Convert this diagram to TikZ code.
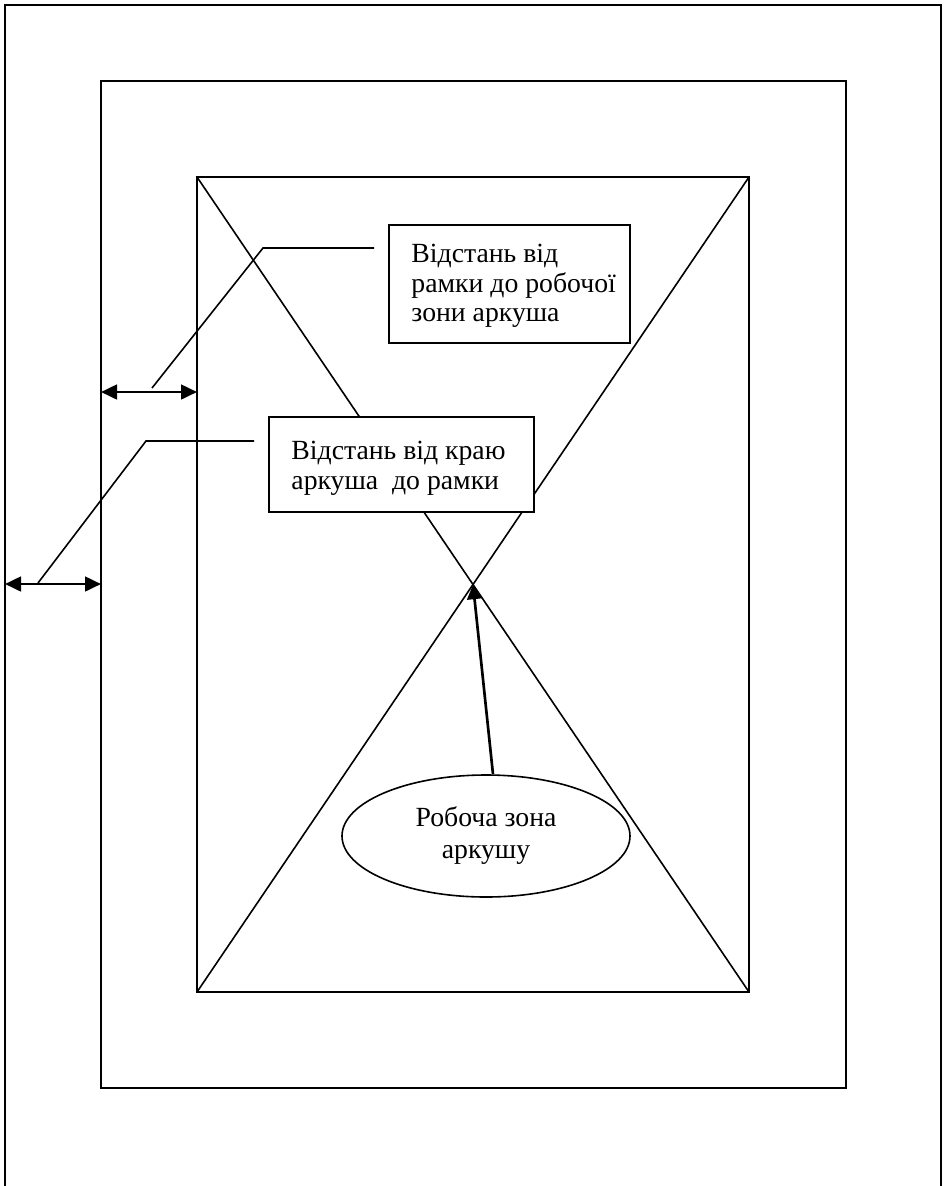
\documentclass[tikz,border=0pt]{standalone}
\usepackage{fontspec}
\setmainfont{Liberation Serif}
\usetikzlibrary{arrows.meta,shapes.geometric}
\begin{document}
\begin{tikzpicture}[x=0.75pt,y=-0.75pt,
  frame/.style={line width=1.2pt},
  leader/.style={line width=1.2pt},
  dimarrow/.style={line width=2pt,{Triangle[length=12pt,width=11pt]}-{Triangle[length=12pt,width=11pt]}},
  pointer/.style={line width=2pt,-{Triangle[length=11pt,width=11pt]}},
  box/.style={draw,fill=white,line width=1.2pt,inner sep=0pt},
  txt/.style={font=\fontsize{20.8}{22}\selectfont,align=left,inner sep=0pt,anchor=north west},
  ctxt/.style={font=\fontsize{20.8}{24}\selectfont,align=center}]
\useasboundingbox (0,0) rectangle (946,1186);
% sheet edge (open at the bottom)
\draw[frame] (5,1186) -- (5,5) -- (941,5) -- (941,1186);
% frame
\draw[frame] (101,81) rectangle (846,1088);
% working zone with diagonals
\coordinate (wtl) at (197,177);
\coordinate (wtr) at (749,177);
\coordinate (wbl) at (197,992);
\coordinate (wbr) at (749,992);
\draw[frame] (wtl) rectangle (wbr);
\draw[frame] (wtl) -- (wbr);
\draw[frame] (wtr) -- (wbl);
\coordinate (wc) at (473,584.5);
% box 1
\node[box,minimum width=180.75pt,minimum height=88.5pt] (b1) at (509.5,284) {};
\node[txt] (t1) at ([shift={(23,20)}]b1.north west) {Відстань від\\рамки до робочої\\зони аркуша};
% box 2
\node[box,minimum width=198.75pt,minimum height=71.25pt] (b2) at (401.5,464.5) {};
\node[txt] (t2) at ([shift={(23,25)}]b2.north west) {Відстань від краю\\аркуша\ \ до рамки};
% leader 1 and dimension 1
\coordinate (l1a) at (374,248);
\coordinate (l1b) at (263,248);
\coordinate (l1c) at (152,388);
\draw[leader] (l1a) -- (l1b) -- (l1c);
\coordinate (d1l) at (101,392);
\coordinate (d1r) at (197,392);
\draw[dimarrow] (d1l) -- (d1r);
% leader 2 and dimension 2
\coordinate (l2a) at (254,441);
\coordinate (l2b) at (146,441);
\coordinate (l2c) at (38,583);
\draw[leader] (l2a) -- (l2b) -- (l2c);
\coordinate (d2l) at (5,584);
\coordinate (d2r) at (101,584);
\draw[dimarrow] (d2l) -- (d2r);
% ellipse
\node[draw,fill=white,ellipse,line width=1.2pt,inner sep=0pt,minimum width=216pt,minimum height=91.5pt,ctxt] (ell) at (486,836) {Робоча зона\\аркушу};
\draw[pointer] ([shift={(7,0)}]ell.north) -- (wc);
\end{tikzpicture}
\end{document}
